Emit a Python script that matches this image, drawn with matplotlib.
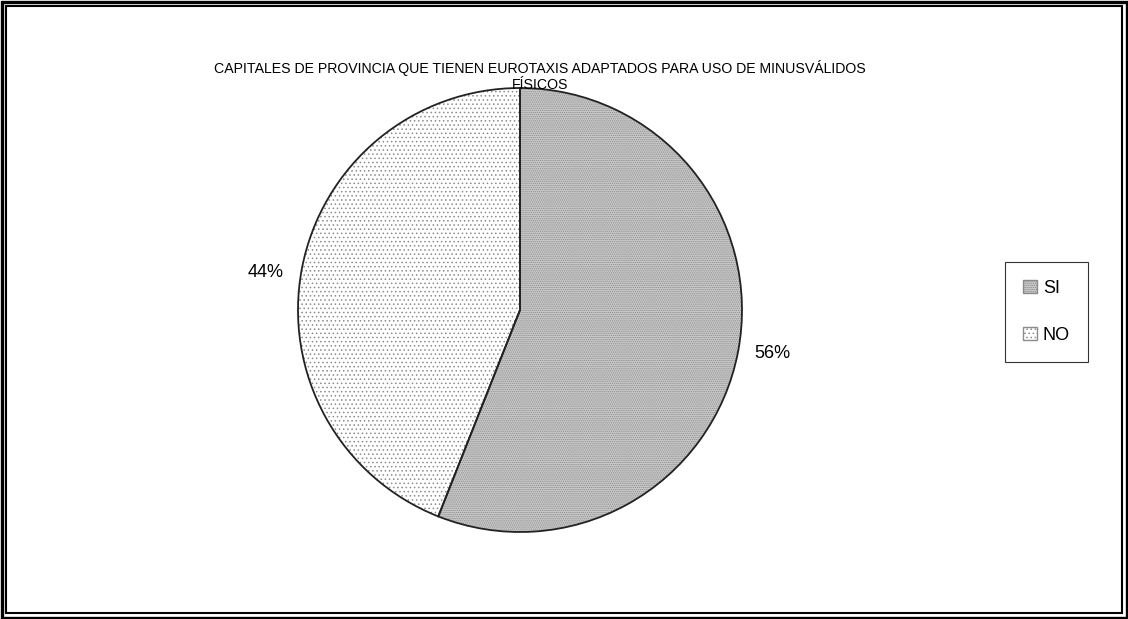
import matplotlib.pyplot as plt
from matplotlib.patches import Rectangle, Patch

# datos
categorias = ["SI", "NO"]
porcentajes = [56, 44]
titulo = "CAPITALES DE PROVINCIA QUE TIENEN EUROTAXIS ADAPTADOS PARA USO DE MINUSVÁLIDOS\nFÍSICOS"

plt.rcParams["font.family"] = ["Liberation Sans", "DejaVu Sans"]
plt.rcParams["hatch.linewidth"] = 0.6

W, H = 1128, 619
fig = plt.figure(figsize=(W / 100, H / 100), dpi=100)

# doble marco exterior
fig.patches.append(Rectangle((1.5 / W, 1.5 / H), 1 - 3 / W, 1 - 3 / H, transform=fig.transFigure,
                             fill=False, ec="black", lw=2.4))
fig.patches.append(Rectangle((6 / W, 6 / H), 1 - 12 / W, 1 - 12 / H, transform=fig.transFigure,
                             fill=False, ec="black", lw=1.5))

# ejes del pastel: centro (520, 310), radio 222 px
cx, cy, r = 520, 310, 222
ax = fig.add_axes([(cx - r) / W, 1 - (cy + r) / H, 2 * r / W, 2 * r / H])

colores = ["#c9c9c9", "white"]
tramas = ["........", "...."]
color_trama = ["#8a8a8a", "#8c8c8c"]
wedges, _ = ax.pie(porcentajes, startangle=90, counterclock=False, colors=colores,
                   wedgeprops=dict(linewidth=0))
for w, h, hc in zip(wedges, tramas, color_trama):
    w.set_hatch(h)
    w.set_edgecolor(hc)
# contorno nítido encima de la trama
ax.pie(porcentajes, startangle=90, counterclock=False,
       wedgeprops=dict(edgecolor="#222222", linewidth=1.3, fill=False))
ax.set_xlim(-1, 1)
ax.set_ylim(-1, 1)
ax.set_aspect("equal")

# etiquetas de porcentaje
fig.text(772 / W, 1 - 354 / H, f"{porcentajes[0]}%", fontsize=13, ha="center", va="center")
fig.text(266 / W, 1 - 272 / H, f"{porcentajes[1]}%", fontsize=13, ha="center", va="center")

# título
fig.text(540 / W, 1 - 76 / H, titulo, fontsize=10.2, ha="center", va="center", linespacing=1.25)

# leyenda
handles = [Patch(facecolor=c, edgecolor=hc, hatch=h, label=l)
           for c, h, hc, l in zip(colores, tramas, color_trama, categorias)]
leg = fig.legend(handles=handles, loc="center", bbox_to_anchor=(1046.5 / W, 1 - 312 / H),
                 frameon=True, fancybox=False, edgecolor="black", fontsize=13,
                 handlelength=0.75, handleheight=0.75, handletextpad=0.35,
                 labelspacing=1.65, borderpad=1.0)
leg.get_frame().set_linewidth(0.8)

fig.savefig("out.png", dpi=100)
